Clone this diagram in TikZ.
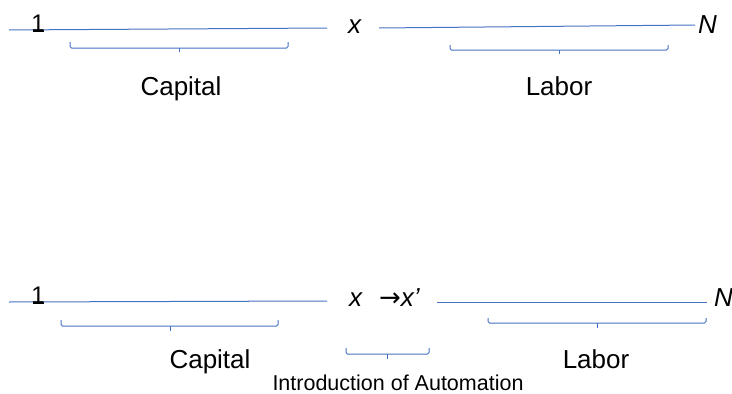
\documentclass[tikz,border=0pt]{standalone}
\usepackage{fontspec}
\setmainfont{Liberation Sans}
\newfontfamily\symfont{DejaVu Sans}
\definecolor{lineblue}{HTML}{4472C4}
\begin{document}
\begin{tikzpicture}[x=1pt,y=-1pt,
  axis/.style={draw=lineblue, line width=1pt},
  bracebox/.style={draw=lineblue, line width=1pt, rounded corners=1.5pt},
  lbl/.style={anchor=base, inner sep=0pt, font=\fontsize{26}{30}\selectfont},
  var/.style={anchor=base west, inner sep=0pt, font=\fontsize{26}{30}\selectfont\itshape},
  small/.style={anchor=base, inner sep=0pt, font=\fontsize{21.5}{25}\selectfont}]
\useasboundingbox (0,0) rectangle (732,394);
\clip (0,0) rectangle (732,394);
% ---------- top row ----------
\coordinate (tA) at (9,30);
\coordinate (tB) at (327,28);
\coordinate (tC) at (379,28);
\coordinate (tD) at (695,25);
\draw[axis] (tA) -- (tB);
\draw[axis] (tC) -- (tD);
\node[anchor=base, inner sep=0pt, font=\fontsize{24}{28}\selectfont] (one1) at (38,31) {1};
\draw[black, line width=1.3pt] (32.5,31) -- (43.5,31);
\node[var] (x1) at (348,33) {x};
\node[var] (N1) at (698,33) {N};
% braces top
\draw[bracebox] (70,42) -- (70,48) -- (288,48) -- (288,42);
\draw[lineblue, line width=1pt] (179,48) -- (179,52);
\draw[bracebox] (450,45) -- (450,50) -- (668,50) -- (668,45);
\draw[lineblue, line width=1pt] (559,50) -- (559,54);
\node[lbl] (cap1) at (181,95) {Capital};
\node[lbl] (lab1) at (559,95) {Labor};
% ---------- bottom row ----------
\coordinate (bA) at (9,302);
\coordinate (bB) at (327,301);
\coordinate (bC) at (437,302);
\coordinate (bD) at (707,302);
\draw[axis] (bA) -- (bB);
\draw[axis] (bC) -- (bD);
\node[anchor=base, inner sep=0pt, font=\fontsize{24}{28}\selectfont] (one2) at (38,303) {1};
\draw[black, line width=1.3pt] (32.5,303) -- (43.5,303);
\node[var] (x2) at (349,306) {x};
\node[var] (x3) at (379,306) {{\upshape\symfont →}x’};
\node[var] (N2) at (714,306) {N};
% braces bottom
\draw[bracebox] (61,320) -- (61,326) -- (278,326) -- (278,320);
\draw[lineblue, line width=1pt] (170,326) -- (170,331);
\draw[bracebox] (488,318) -- (488,323) -- (706,323) -- (706,318);
\draw[lineblue, line width=1pt] (597,323) -- (597,328);
\draw[bracebox] (346,348) -- (346,354) -- (429,354) -- (429,348);
\draw[lineblue, line width=1pt] (387,354) -- (387,359);
\node[lbl] (cap2) at (210,368) {Capital};
\node[lbl] (lab2) at (596,368) {Labor};
\node[small] (intro) at (398,390) {Introduction of Automation};
\end{tikzpicture}
\end{document}
